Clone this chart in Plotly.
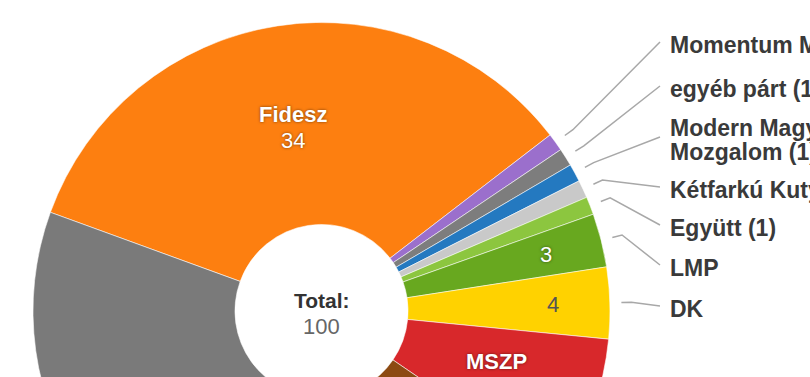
import math
import textwrap
import plotly.graph_objects as go

# ---------------- data ----------------
parties = ["Fidesz", "Momentum Mozgalom", "egyéb párt", "Modern Magyarország Mozgalom",
           "Kétfarkú Kutya Párt", "Együtt", "LMP", "DK", "MSZP", "Jobbik", "Bizonytalan"]
seats = [34, 1, 1, 1, 1, 1, 3, 4, 8, 15, 31]
colors = ["#fd7f10", "#9b6fcc", "#7d7d7d", "#2479c0", "#c9c9c9", "#8cc63f",
          "#68a81f", "#ffd200", "#d8282b", "#8c4a12", "#7a7a7a"]
# how each slice is labelled: 'in' = name+value inside, 'val' = value inside + name outside,
# 'out' = "name (value)" outside
label_mode = ["in", "out", "out", "out", "out", "out", "val", "val", "in", "in", "in"]
center_title = "Total:"

# ---------------- layout constants ----------------
W, H = 810, 620
CX, CY, R = 321.5, 311.0, 288.5
HOLE = 0.3
ROT = -70
FONT = "Liberation Sans, Arial, Helvetica, sans-serif"
FS = 22
FS_OUT = 23
OUT_X = 670
OUT_Y = [45, 89, 140, 190, 228, 268, 309]   # vertical slots of outside labels
LINE_END_X = 660
R_IN2, R_IN1 = 186, 232
SHADOW = "0px 0px 3px rgba(0,0,0,0.55)"

total = sum(seats)
mids, cum = [], 0
for v in seats:
    mids.append(ROT + (cum + v / 2) / total * 360)
    cum += v


def polar(r, ang):
    a = math.radians(ang)
    return CX + r * math.sin(a), CY - r * math.cos(a)


def lum(hexc):
    h = hexc.lstrip("#")
    r, g, b = (int(h[i:i + 2], 16) for i in (0, 2, 4))
    return (0.2126 * r + 0.7152 * g + 0.0722 * b) / 255


fig = go.Figure()
fig.add_trace(go.Pie(
    labels=parties, values=seats, sort=False, direction="clockwise", rotation=ROT,
    hole=HOLE, textinfo="none", hoverinfo="label+value", showlegend=False,
    marker=dict(colors=colors, line=dict(color="rgba(255,255,255,0.55)", width=1)),
    domain=dict(x=[(CX - R) / W, (CX + R) / W], y=[1 - (CY + R) / H, 1 - (CY - R) / H]),
))

annotations = []


def add_text(x, y, text, color, shift=0, anchor="center", shadow=None, size=FS):
    f = dict(family=FONT, size=size, color=color)
    if shadow:
        f["shadow"] = shadow
    annotations.append(dict(x=x, y=y, xref="x", yref="y", text=text, showarrow=False,
                            xanchor=anchor, yanchor="middle", yshift=shift, font=f,
                            borderpad=0, borderwidth=0))


slot = 0
for name, v, col, mode, m in zip(parties, seats, colors, label_mode, mids):
    txt_col = "#555555" if lum(col) > 0.65 else "#ffffff"
    sh = SHADOW if txt_col == "#ffffff" else None
    if mode == "in":
        x, y = polar(R_IN2, m)
        add_text(x, y, f"<b>{name}</b>", txt_col, 13, shadow=sh)
        add_text(x, y, f"{v}", txt_col, -13, shadow=sh)
        continue
    if mode == "val":
        x, y = polar(R_IN1, m)
        add_text(x, y, f"{v}", txt_col, 0, shadow=sh)
        label = name
    else:
        label = f"{name} ({v})"
    ly = OUT_Y[slot]
    slot += 1
    lines = textwrap.wrap(label, 24)
    n = len(lines)
    for i, ln in enumerate(lines):
        add_text(OUT_X, ly, f"<b>{ln}</b>", "#3a3a3a", (n - 1) / 2 * 24 - i * 24,
                 anchor="left", size=FS_OUT)
    ax, ay = polar(300, m)
    bx, by = polar(310, m)
    fig.add_trace(go.Scatter(x=[ax, bx, LINE_END_X], y=[ay, by, ly - 3], mode="lines",
                             line=dict(color="#a8a8a8", width=1.5), hoverinfo="skip",
                             showlegend=False))

add_text(CX, CY, f"<b>{center_title}</b>", "#333333", 11, size=21)
add_text(CX, CY, f"{total}", "#666666", -15)

fig.update_layout(
    width=W, height=H, margin=dict(l=0, r=0, t=0, b=0),
    paper_bgcolor="white", plot_bgcolor="white",
    xaxis=dict(range=[0, W], visible=False, domain=[0, 1], fixedrange=True),
    yaxis=dict(range=[H, 0], visible=False, domain=[0, 1], fixedrange=True),
    annotations=annotations, showlegend=False,
)

fig.write_html("out.html", config={"displayModeBar": False},
               post_script="document.body.style.margin='0';document.body.style.overflow='hidden';")
